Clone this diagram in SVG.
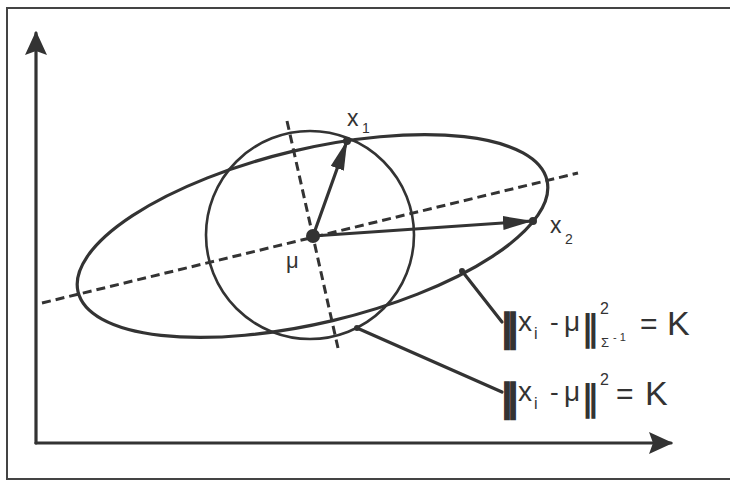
<svg xmlns="http://www.w3.org/2000/svg" width="730" height="481" viewBox="0 0 730 481">
<style>
.ln{fill:none;stroke:#333;stroke-width:3.2;stroke-linecap:round}
.dash{fill:none;stroke:#333;stroke-width:3;stroke-dasharray:9 5}
.thin{fill:none;stroke:#333;stroke-width:2.6}
.t{font-family:"Liberation Sans",Arial,sans-serif;fill:#333}
.bar{font-family:"DejaVu Sans",sans-serif;font-weight:bold;fill:#333}
.heavy{stroke:#333;stroke-width:1.5}
.dot{fill:#333}
</style>
<defs>
<marker id="axh" viewBox="0 -11 24 22" refX="22" refY="0" markerWidth="24" markerHeight="22" markerUnits="userSpaceOnUse" orient="auto">
<path d="M0,-11 L24,0 L0,11 L4,0 Z" fill="#333"/>
</marker>
<marker id="vh" viewBox="0 -7 30 14" refX="29" refY="0" markerWidth="30" markerHeight="14" markerUnits="userSpaceOnUse" orient="auto">
<path d="M0,-7 L30,0 L0,7 Z" fill="#333"/>
</marker>
</defs>
<rect x="7" y="8" width="740" height="471" fill="#fff" stroke="#444" stroke-width="2"/>
<g id="axes">
<line class="ln" x1="36" y1="443" x2="36" y2="33" marker-end="url(#axh)"/>
<line class="ln" x1="36" y1="443" x2="671" y2="443" marker-end="url(#axh)"/>
</g>
<g id="ellipse">
<ellipse class="ln" cx="312.5" cy="236" rx="241" ry="87" transform="rotate(-13.4 312.5 236)"/>
</g>
<g id="circle">
<circle class="thin" cx="310" cy="235" r="104"/>
</g>
<g id="axes-of-ellipse">
<line class="dash" x1="42" y1="303" x2="578" y2="173"/>
<line class="dash" x1="287" y1="121" x2="338" y2="348"/>
</g>
<g id="connectors">
<line class="ln" x1="313" y1="236" x2="347" y2="141" marker-end="url(#vh)"/>
<line class="ln" x1="313" y1="236" x2="532" y2="221" marker-end="url(#vh)"/>
<line class="ln" x1="462" y1="271" x2="502" y2="322"/>
<line class="ln" x1="357" y1="328" x2="502" y2="392"/>
</g>
<g id="mu">
<circle class="dot" cx="313" cy="236" r="7"/>
<text class="t" x="286" y="268" font-size="22">μ</text>
</g>
<g id="x1">
<circle class="dot" cx="347" cy="141" r="4"/>
<text class="t" x="347" y="126" font-size="23">x</text>
<text class="t" x="362" y="133" font-size="14">1</text>
</g>
<g id="x2">
<circle class="dot" cx="533" cy="221" r="4"/>
<text class="t" x="550" y="233" font-size="23">x</text>
<text class="t" x="565" y="244" font-size="14">2</text>
</g>
<g id="label-ellipse">
<circle class="dot" cx="462" cy="271" r="3"/>
<text class="bar heavy" x="500" y="340" font-size="38">‖</text>
<text class="t" x="518" y="331" font-size="28">x</text>
<text class="t" x="534" y="339" font-size="16">i</text>
<text class="t" x="550" y="331" font-size="26">-</text>
<text class="t" x="564" y="331" font-size="28">μ</text>
<text class="bar" x="581" y="340" font-size="36">‖</text>
<text class="t" x="600" y="314" font-size="16">2</text>
<text class="t" x="601" y="347" font-size="13">Σ</text>
<text class="t" x="613" y="341" font-size="11">- 1</text>
<text class="t" x="640" y="334" font-size="30">=</text>
<text class="t" x="667" y="335" font-size="34">K</text>
</g>
<g id="label-circle">
<circle class="dot" cx="357" cy="328" r="3"/>
<text class="bar heavy" x="500" y="410" font-size="38">‖</text>
<text class="t" x="518" y="401" font-size="28">x</text>
<text class="t" x="534" y="409" font-size="16">i</text>
<text class="t" x="550" y="401" font-size="26">-</text>
<text class="t" x="564" y="401" font-size="28">μ</text>
<text class="bar" x="581" y="410" font-size="36">‖</text>
<text class="t" x="600" y="385" font-size="16">2</text>
<text class="t" x="616" y="404" font-size="30">=</text>
<text class="t" x="645" y="405" font-size="34">K</text>
</g>
</svg>
